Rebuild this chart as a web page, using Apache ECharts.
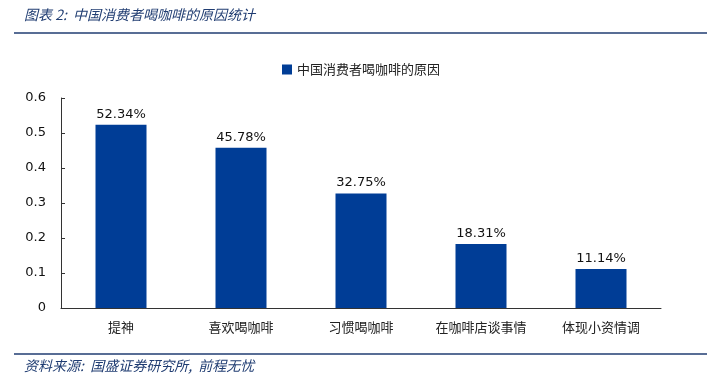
<!DOCTYPE html>
<html><head><meta charset="utf-8">
<script src="https://cdn.jsdelivr.net/npm/echarts@6/dist/echarts.min.js"></script>
<style>html,body{margin:0;padding:0;background:#fff}#c{width:722px;height:379px}</style>
</head><body><div id="c"></div>
<script>
const categories = ['提神', '喜欢喝咖啡', '习惯喝咖啡', '在咖啡店谈事情', '体现小资情调'];
const values = [0.5234, 0.4578, 0.3275, 0.1831, 0.1114];
const seriesName = '中国消费者喝咖啡的原因';
const titleText = '图表 2:  中国消费者喝咖啡的原因统计';
const sourceText = '资料来源:  国盛证券研究所,  前程无忧';

const chart = echarts.init(document.getElementById('c'), null, {renderer: 'canvas'});
const dark = '#203D72';
chart.setOption({
  animation: false,
  textStyle: {fontFamily: 'Noto Sans CJK SC'},
  legend: {
    top: 58, left: 'center', itemWidth: 10, itemHeight: 10, itemGap: 4,
    icon: 'rect',
    textStyle: {fontSize: 13, color: '#222', fontFamily: 'Noto Sans CJK SC'},
    data: [seriesName]
  },
  grid: {left: 61, right: 61, top: 98, bottom: 71},
  xAxis: {
    type: 'category', data: categories,
    axisLine: {lineStyle: {color: '#333'}},
    axisTick: {inside: true, length: 4, lineStyle: {color: '#333'}},
    axisLabel: {fontSize: 13, color: '#222', margin: 13, fontFamily: 'Noto Sans CJK SC'}
  },
  yAxis: {
    type: 'value', min: 0, max: 0.6, interval: 0.1,
    axisLine: {show: true, lineStyle: {color: '#333'}},
    axisTick: {show: true, inside: true, length: 4, lineStyle: {color: '#333'}},
    splitLine: {show: false},
    axisLabel: {fontSize: 13, color: '#111', margin: 15, fontFamily: 'DejaVu Sans',
      formatter: v => String(Math.round(v*10)/10)}
  },
  series: [{
    name: seriesName, type: 'bar', data: values, barWidth: 51,
    itemStyle: {color: '#003D96'},
    label: {show: true, position: 'top', distance: 4, fontSize: 13, color: '#111', fontFamily: 'DejaVu Sans',
      formatter: p => (p.value*100).toFixed(2) + '%'}
  }],
  graphic: [
    {type: 'text', left: 24, top: 8, style: {text: titleText, fill: dark, fontSize: 14, fontStyle: 'italic', fontFamily: 'Noto Sans CJK SC'}},
    {type: 'line', shape: {x1: 14, y1: 33, x2: 707, y2: 33}, style: {stroke: dark, lineWidth: 1.5}},
    {type: 'line', shape: {x1: 14, y1: 354, x2: 707, y2: 354}, style: {stroke: dark, lineWidth: 1.5}},
    {type: 'text', left: 24, top: 359, style: {text: sourceText, fill: dark, fontSize: 14, fontStyle: 'italic', fontFamily: 'Noto Sans CJK SC'}}
  ]
});
</script></body></html>
